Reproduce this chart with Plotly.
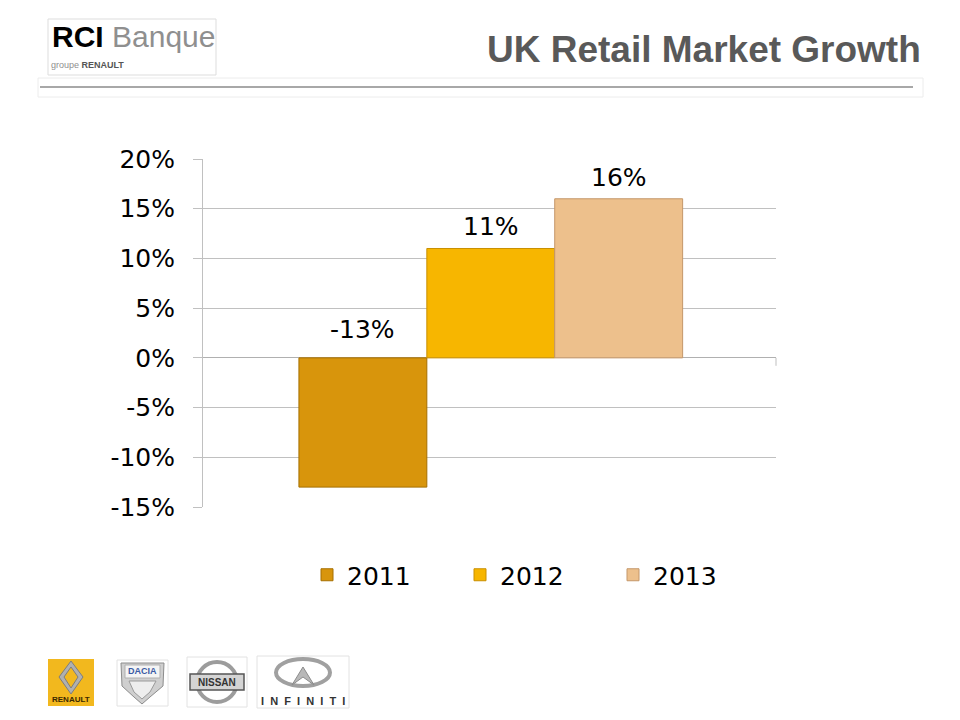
import plotly.graph_objects as go

# ---- data ----
series_names = ["2011", "2012", "2013"]
growth_values = [-13, 11, 16]
bar_colors = ["#d8950c", "#f7b600", "#edc08c"]
line_colors = ["#a66f00", "#c98f00", "#c4976a"]
y_ticks = [-15, -10, -5, 0, 5, 10, 15, 20]
title_text = "UK Retail Market Growth"

# page body has an 8px margin; work in screen pixels, convert to figure
OFF = 8
FW, FH = 960 - OFF, 720 - OFF
SX0, SX1, SY0, SY1 = 203, 776, 159, 507   # plot box in screen pixels
L, R = SX0 - OFF, FW - (SX1 - OFF)
T, B = SY0 - OFF, FH - (SY1 - OFF)


def px(x):
    return (x - SX0) / (SX1 - SX0)


def py(y):
    return (SY1 - y) / (SY1 - SY0)


def path(points):
    return "M " + " L ".join(f"{px(x):.5f},{py(y):.5f}" for x, y in points) + " Z"


fig = go.Figure()
for i, (name, v) in enumerate(zip(series_names, growth_values)):
    fig.add_trace(go.Bar(
        x=[i], y=[v], width=[1], name=name,
        marker=dict(color=bar_colors[i], line=dict(color=line_colors[i], width=1)),
        hoverinfo="skip",
    ))

annotations = []
for i, v in enumerate(growth_values):
    annotations.append(dict(
        x=i, y=max(v, 0), xref="x", yref="y", text=f"{v}%", showarrow=False,
        xanchor="center", yanchor="bottom", yshift=5 if v >= 0 else 12,
        font=dict(family="DejaVu Sans", size=25, color="#000000"),
    ))


def note(x, y, text, size, color="#000000", family="Liberation Sans", xanchor="center"):
    return dict(x=px(x), y=py(y), xref="paper", yref="paper", text=text, showarrow=False,
                xanchor=xanchor, yanchor="middle",
                font=dict(family=family, size=size, color=color))


annotations += [
    note(923, 49, f"<b>{title_text}</b>", 37, "#595959", xanchor="right"),
    note(50, 36, "<b>RCI</b><span style='color:#8f8f8f'> Banque</span>", 30,
         "#000000", "Liberation Sans Narrow, Liberation Sans", xanchor="left"),
    note(49, 65, "groupe <b><span style='color:#555555'>RENAULT</span></b>", 9,
         "#8f8f8f", "Liberation Sans Narrow, Liberation Sans", xanchor="left"),
    note(71, 699, "<b>RENAULT</b>", 8, "#3a2800"),
    note(142.5, 671, "<b>DACIA</b>", 9, "#3b5ba5"),
    note(217, 682, "<b>NISSAN</b>", 10, "#333333"),
    note(303, 701, "<b>I&nbsp;&nbsp;N&nbsp;&nbsp;F&nbsp;&nbsp;I&nbsp;&nbsp;N&nbsp;&nbsp;I&nbsp;&nbsp;T&nbsp;&nbsp;I</b>",
         11, "#333333"),
]

shapes = [
    # header box + line
    dict(type="rect", xref="paper", yref="paper", x0=px(38), x1=px(923), y0=py(97), y1=py(78),
         line=dict(color="#ececec", width=1), fillcolor="rgba(0,0,0,0)", layer="below"),
    dict(type="line", xref="paper", yref="paper", x0=px(40), x1=px(913), y0=py(87), y1=py(87),
         line=dict(color="#a8a8a8", width=2)),
    # RCI logo box
    dict(type="rect", xref="paper", yref="paper", x0=px(48), x1=px(216), y0=py(75), y1=py(19),
         line=dict(color="#dddddd", width=1), fillcolor="white", layer="below"),
    # small end tick on category axis
    dict(type="line", xref="paper", yref="y", x0=1, x1=1, y0=0, y1=-0.8,
         line=dict(color="#bfbfbf", width=1)),
    # Renault
    dict(type="rect", xref="paper", yref="paper", x0=px(48), x1=px(94), y0=py(706), y1=py(659),
         line=dict(width=0), fillcolor="#f2b81e"),
    dict(type="path", xref="paper", yref="paper",
         path=path([(71, 661), (83, 677), (71, 694), (59, 677)]),
         line=dict(color="#7d7d7d", width=1), fillcolor="#b0b0b0"),
    dict(type="path", xref="paper", yref="paper",
         path=path([(71, 667), (78, 677), (71, 688), (64, 677)]),
         line=dict(color="#7d7d7d", width=1), fillcolor="#f2b81e"),
    # Dacia
    dict(type="rect", xref="paper", yref="paper", x0=px(117), x1=px(168), y0=py(706), y1=py(660),
         line=dict(color="#e2e2e2", width=1), fillcolor="white", layer="below"),
    dict(type="path", xref="paper", yref="paper",
         path=path([(121, 663), (164, 663), (163, 686), (150, 697), (142, 704), (134, 697), (122, 686)]),
         line=dict(color="#8c8c8c", width=1), fillcolor="#cfcfcf", layer="below"),
    dict(type="path", xref="paper", yref="paper",
         path=path([(125, 665), (160, 665), (160, 678), (125, 678)]),
         line=dict(color="#b0b0b0", width=1), fillcolor="#f4f4f4", layer="below"),
    dict(type="path", xref="paper", yref="paper",
         path=path([(129, 681), (156, 681), (150, 692), (142, 699), (134, 692)]),
         line=dict(color="#9a9a9a", width=1), fillcolor="#eeeeee", layer="below"),
    # Nissan
    dict(type="rect", xref="paper", yref="paper", x0=px(187), x1=px(247), y0=py(707), y1=py(657),
         line=dict(color="#e2e2e2", width=1), fillcolor="white", layer="below"),
    dict(type="circle", xref="paper", yref="paper", x0=px(197), x1=px(237), y0=py(702), y1=py(662),
         line=dict(color="#9c9c9c", width=4), fillcolor="rgba(0,0,0,0)", layer="below"),
    dict(type="rect", xref="paper", yref="paper", x0=px(190), x1=px(244), y0=py(690), y1=py(674),
         line=dict(color="#555555", width=1.5), fillcolor="#d4d4d4", layer="below"),
    # Infiniti
    dict(type="rect", xref="paper", yref="paper", x0=px(257), x1=px(349), y0=py(708), y1=py(656),
         line=dict(color="#e2e2e2", width=1), fillcolor="white", layer="below"),
    dict(type="circle", xref="paper", yref="paper", x0=px(276), x1=px(330), y0=py(686), y1=py(659),
         line=dict(color="#a0a0a0", width=4), fillcolor="rgba(0,0,0,0)", layer="below"),
    dict(type="path", xref="paper", yref="paper",
         path=path([(292, 685), (303, 667), (314, 685), (303, 677)]),
         line=dict(color="#8c8c8c", width=1), fillcolor="#b8b8b8", layer="below"),
]

fig.update_layout(
    width=FW, height=FH,
    margin=dict(l=L, r=R, t=T, b=B, autoexpand=False),
    paper_bgcolor="white", plot_bgcolor="white",
    barmode="overlay",
    showlegend=True,
    legend=dict(orientation="h", x=px(307), xanchor="left", y=py(575), yanchor="middle",
                font=dict(family="DejaVu Sans", size=25, color="#000000"),
                entrywidth=108, entrywidthmode="pixels", traceorder="normal",
                itemclick=False, itemdoubleclick=False),
    xaxis=dict(range=[-1.25, 3.23], showticklabels=False, showgrid=False, zeroline=False,
               ticks="", showline=False, fixedrange=True),
    yaxis=dict(range=[-15, 20], tickvals=y_ticks, ticktext=[f"{t}%" for t in y_ticks],
               showgrid=True, gridcolor="#c0c0c0", gridwidth=1,
               zeroline=True, zerolinecolor="#b0b0b0", zerolinewidth=1,
               showline=True, linecolor="#c0c0c0", linewidth=1,
               ticks="outside", ticklen=9, tickcolor="#c0c0c0", ticklabelstandoff=13,
               tickfont=dict(family="DejaVu Sans", size=25, color="#000000"), fixedrange=True),
    annotations=annotations,
    shapes=shapes,
)

fig.write_html("out.html")
